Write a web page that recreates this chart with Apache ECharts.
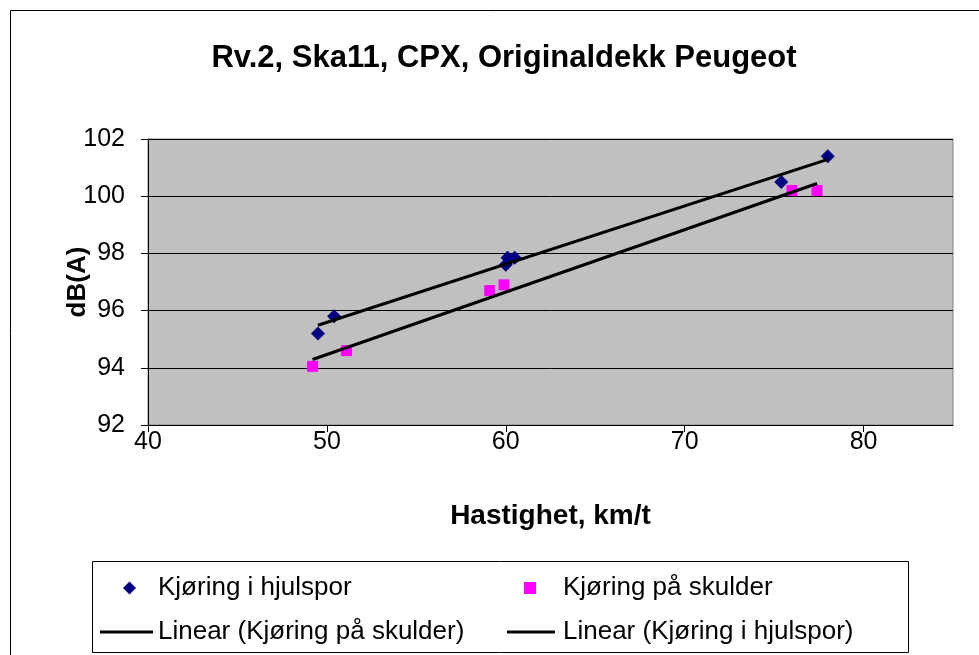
<!DOCTYPE html>
<html>
<head>
<meta charset="utf-8">
<script src="https://cdn.jsdelivr.net/npm/echarts@6/dist/echarts.min.js"></script>
<style>
  html, body { margin: 0; padding: 0; background: #fff; }
  #chart { width: 979px; height: 655px; }
</style>
</head>
<body>
<div id="chart"></div>
<script>
// measured points (speed km/t, dB(A))
const hjulsporX = [49.5, 50.4, 60.0, 60.1, 60.5, 75.4, 78.0];
const hjulsporY = [95.2, 95.8, 97.6, 97.85, 97.85, 100.5, 101.4];
const skulderX = [49.2, 51.1, 59.1, 59.9, 76.0, 77.4];
const skulderY = [94.05, 94.6, 96.7, 96.9, 100.2, 100.2];
const xTicks = [40, 50, 60, 70, 80];
const yTicks = [92, 94, 96, 98, 100, 102];

const font = '"Liberation Sans", Arial, sans-serif';

// least squares trend line over the data range (like Excel "Linear")
function trend(xs, ys) {
  const n = xs.length;
  const mx = xs.reduce((a, b) => a + b, 0) / n;
  const my = ys.reduce((a, b) => a + b, 0) / n;
  let sxy = 0, sxx = 0;
  for (let i = 0; i < n; i++) {
    sxy += (xs[i] - mx) * (ys[i] - my);
    sxx += (xs[i] - mx) * (xs[i] - mx);
  }
  const b = sxy / sxx, a = my - b * mx;
  const x0 = Math.min(...xs), x1 = Math.max(...xs);
  return [[x0, a + b * x0], [x1, a + b * x1]];
}
function pairs(xs, ys) {
  return xs.map((x, i) => [x, ys[i]]);
}

const legendText = { fontFamily: font, fontSize: 26, color: '#000' };

const chart = echarts.init(document.getElementById('chart'));
chart.setOption({
  backgroundColor: '#fff',
  animation: false,
  textStyle: { fontFamily: font },
  title: {
    text: 'Rv.2, Ska11, CPX, Originaldekk Peugeot',
    left: 499,
    textAlign: 'center',
    top: 38,
    textStyle: { fontFamily: font, fontSize: 31, fontWeight: 'bold', color: '#000' }
  },
  graphic: [
    {
      type: 'rect',
      shape: { x: 10.5, y: 10.5, width: 1000, height: 700 },
      style: { fill: 'none', stroke: '#000', lineWidth: 1 },
      silent: true
    },
    {
      type: 'rect',
      shape: { x: 92.5, y: 561.5, width: 816, height: 91 },
      style: { fill: '#fff', stroke: '#000', lineWidth: 1 },
      silent: true,
      z: -1
    }
  ],
  grid: {
    left: 148,
    top: 139,
    width: 805,
    height: 286,
    show: true,
    backgroundColor: '#c0c0c0',
    borderColor: '#808080',
    borderWidth: 1
  },
  legend: [
    {
      data: ['Kjøring i hjulspor'],
      left: 118, top: 570,
      itemWidth: 13, itemHeight: 13,
      textStyle: Object.assign({ padding: [0, 0, 0, 17] }, legendText)
    },
    {
      data: ['Kjøring på skulder'],
      left: 519, top: 570,
      itemWidth: 12, itemHeight: 12,
      textStyle: Object.assign({ padding: [0, 0, 0, 22] }, legendText)
    },
    {
      data: [{ name: 'Linear (Kjøring på skulder)', icon: 'rect' }],
      left: 95, top: 614,
      itemWidth: 53, itemHeight: 3,
      textStyle: Object.assign({ padding: [0, 0, 0, 0] }, legendText)
    },
    {
      data: [{ name: 'Linear (Kjøring i hjulspor)', icon: 'rect' }],
      left: 502, top: 614,
      itemWidth: 48, itemHeight: 3,
      textStyle: Object.assign({ padding: [0, 0, 0, 3] }, legendText)
    }
  ],
  xAxis: {
    type: 'value',
    min: 40,
    max: 85,
    interval: 10,
    name: 'Hastighet, km/t',
    nameLocation: 'middle',
    nameGap: 77,
    nameMoveOverlap: false,
    nameTextStyle: { fontFamily: font, fontSize: 28, fontWeight: 'bold', color: '#000' },
    axisLine: { onZero: false, lineStyle: { color: '#000', width: 1 } },
    axisTick: { show: true, inside: false, length: 7, lineStyle: { color: '#000' } },
    axisLabel: {
      margin: 5, fontSize: 25, color: '#000', fontFamily: font,
      showMaxLabel: false,
      formatter: v => (xTicks.includes(v) ? String(v) : '')
    },
    splitLine: { show: false }
  },
  yAxis: {
    type: 'value',
    min: 92,
    max: 102,
    interval: 2,
    name: 'dB(A)',
    nameLocation: 'middle',
    nameGap: 57,
    nameMoveOverlap: false,
    nameTextStyle: { fontFamily: font, fontSize: 26, fontWeight: 'bold', color: '#000' },
    axisLine: { onZero: false, lineStyle: { color: '#000', width: 1 } },
    axisTick: { show: true, inside: false, length: 7, lineStyle: { color: '#000' } },
    axisLabel: {
      margin: 23, fontSize: 25, color: '#000', fontFamily: font,
      formatter: v => (yTicks.includes(v) ? String(v) : '')
    },
    splitLine: { show: true, lineStyle: { color: '#000', width: 1 } }
  },
  series: [
    {
      name: 'Kjøring i hjulspor',
      type: 'scatter',
      symbol: 'diamond',
      symbolSize: [14, 14],
      itemStyle: { color: '#000080', opacity: 1 },
      data: pairs(hjulsporX, hjulsporY),
      z: 3
    },
    {
      name: 'Kjøring på skulder',
      type: 'scatter',
      symbol: 'rect',
      symbolSize: 11,
      itemStyle: { color: '#ff00ff', opacity: 1 },
      data: pairs(skulderX, skulderY),
      z: 3
    },
    {
      name: 'Linear (Kjøring på skulder)',
      type: 'line',
      symbol: 'none',
      itemStyle: { color: '#000' },
      lineStyle: { color: '#000', width: 3 },
      data: trend(skulderX, skulderY),
      z: 4
    },
    {
      name: 'Linear (Kjøring i hjulspor)',
      type: 'line',
      symbol: 'none',
      itemStyle: { color: '#000' },
      lineStyle: { color: '#000', width: 3 },
      data: trend(hjulsporX, hjulsporY),
      z: 4
    }
  ]
});
</script>
</body>
</html>
